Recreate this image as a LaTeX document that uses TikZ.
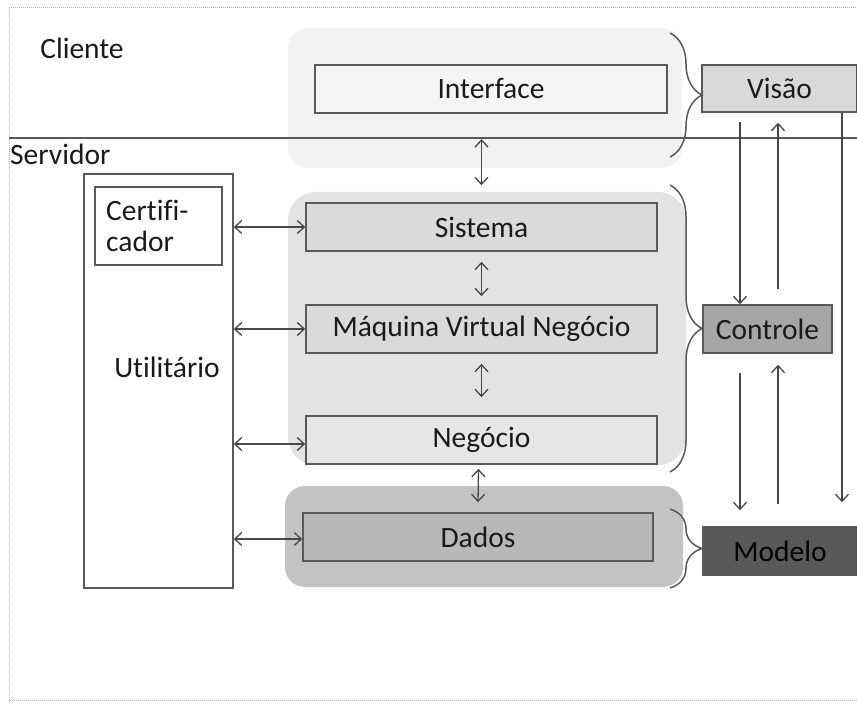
\documentclass[tikz,border=0pt]{standalone}
\usepackage{fontspec}
\setmainfont[Ligatures={NoCommon}]{Carlito}
\usetikzlibrary{arrows.meta,calc,decorations.pathreplacing}
\definecolor{edge}{HTML}{595959}
\definecolor{txt}{HTML}{1A1A1A}
\definecolor{gA}{HTML}{F2F2F2}
\definecolor{gB}{HTML}{E3E3E3}
\definecolor{gC}{HTML}{C3C3C3}
\definecolor{bInt}{HTML}{F5F5F5}
\definecolor{bSis}{HTML}{DADADA}
\definecolor{bNeg}{HTML}{E6E6E6}
\definecolor{bDad}{HTML}{B8B8B8}
\definecolor{cVis}{HTML}{D9D9D9}
\definecolor{cCon}{HTML}{A6A6A6}
\definecolor{cMod}{HTML}{595959}
\tikzset{
  lbl/.style={font=\fontsize{29.5}{33}\selectfont, text=txt, inner sep=0pt},
  box/.style={lbl, draw=edge, line width=1.6pt, minimum height=48pt},
  grp/.style={inner sep=0pt, draw=none},
  dbl/.style={draw=edge!80!black, line width=1.3pt, {Straight Barb[length=7pt,width=13pt]}-{Straight Barb[length=7pt,width=13pt]}},
  arr/.style={draw=edge!80!black, line width=1.3pt, -{Straight Barb[length=7pt,width=13pt]}},
  bracestyle/.style={draw=edge, line width=1.5pt, decorate, decoration={brace, amplitude=32pt}}
}
\begin{document}
\begin{tikzpicture}[x=1pt,y=-1pt]
\useasboundingbox (0,0) rectangle (857,708);
\begin{scope}
\clip (0,0) rectangle (857,708);
% outer frame
\draw[gray!60, line width=1pt, densely dotted] (870,8) -- (9,8) -- (9,700) -- (870,700);
% groups
\node[grp, fill=gA, minimum width=394pt, minimum height=140pt, rounded corners=20pt] (gcli) at (485,98) {};
\node[grp, fill=gB, minimum width=398pt, minimum height=273pt, rounded corners=28pt] (gsys) at (487,328.5) {};
\node[grp, fill=gC, minimum width=398pt, minimum height=101pt, rounded corners=20pt] (gdad) at (484,536.5) {};
% divider
\draw[edge, line width=1.2pt] (9,138) -- (857,138);
\node[lbl] (cliente) at (82,48) {Cliente};
\node[lbl, anchor=west] (servidor) at (10,154) {Servidor};
% main boxes
\node[box, fill=bInt, minimum width=352pt] (interface) at (491,89) {Interface};
\node[box, fill=bSis, minimum width=351pt] (sistema) at (481.5,227) {Sistema};
\node[box, fill=bSis, minimum width=351pt] (mvn) at (481.5,329) {Máquina Virtual Negócio};
\node[box, fill=bNeg, minimum width=351pt] (negocio) at (481.5,440) {Negócio};
\node[box, fill=bDad, minimum width=350pt] (dados) at (478,537) {Dados};
% utilitario
\node[draw=edge, line width=1.6pt, fill=white, minimum width=149pt, minimum height=414pt, inner sep=0pt] (util) at (158.5,381) {};
\node[lbl] (utiltxt) at (167,367) {Utilitário};
\node[draw=edge, line width=1.6pt, fill=white, minimum width=127pt, minimum height=78pt, inner sep=0pt] (cert) at (158.5,226) {};
\node[lbl, align=left, anchor=west, font=\fontsize{29.5}{31}\selectfont] (certtxt) at (106,226) {Certifi-\\cador};
% MVC boxes
\node[box, fill=cVis, minimum width=155pt, minimum height=47pt] (visao) at (779.5,88.5) {Visão};
\node[box, fill=cCon, minimum width=129pt] (controle) at (767.5,329) {Controle};
\node[box, fill=cMod, minimum width=154pt, text=black] (modelo) at (780,551) {Modelo};
% braces
\draw[bracestyle] (670,33) -- (670,157);
\draw[bracestyle] (670,185) -- (670,472);
\draw[bracestyle] (670,509) -- (670,588);
% horizontal arrows
\draw[dbl] (sistema.west -| util.east) -- (sistema.west);
\draw[dbl] (mvn.west -| util.east) -- (mvn.west);
\draw[dbl] ($(negocio.west -| util.east)+(0,4)$) -- ($(negocio.west)+(0,4)$);
\draw[dbl] ($(dados.west -| util.east)+(0,2)$) -- ($(dados.west)+(0,2)$);
% vertical arrows between layers
\draw[dbl] ($(sistema.north)+(0,-63)$) -- ($(sistema.north)+(0,-17)$);
\draw[dbl] ($(sistema.south)+(0,10)$) -- ($(mvn.north)+(0,-8)$);
\draw[dbl] ($(mvn.south)+(0,10)$) -- ($(negocio.north)+(0,-18)$);
\draw[dbl] ($(negocio.south)+(-3,4)$) -- ($(dados.north)+(0,-10)$);
% MVC arrows
\coordinate (c1) at (740,0);
\coordinate (c2) at (778,0);
\coordinate (c3) at (842,0);
\draw[arr] ($(visao.south -| c1)+(0,9)$) -- (controle.north -| c1);
\draw[arr] ($(controle.north -| c2)+(0,-15)$) -- ($(visao.south -| c2)+(0,10)$);
\draw[arr] (visao.south -| c3) -- ($(modelo.north -| c3)+(0,-24)$);
\draw[arr] ($(controle.south -| c1)+(0,19)$) -- ($(modelo.north -| c1)+(0,-16)$);
\draw[arr] ($(modelo.north -| c2)+(0,-22)$) -- ($(controle.south -| c2)+(0,11)$);
\end{scope}
\end{tikzpicture}
\end{document}
